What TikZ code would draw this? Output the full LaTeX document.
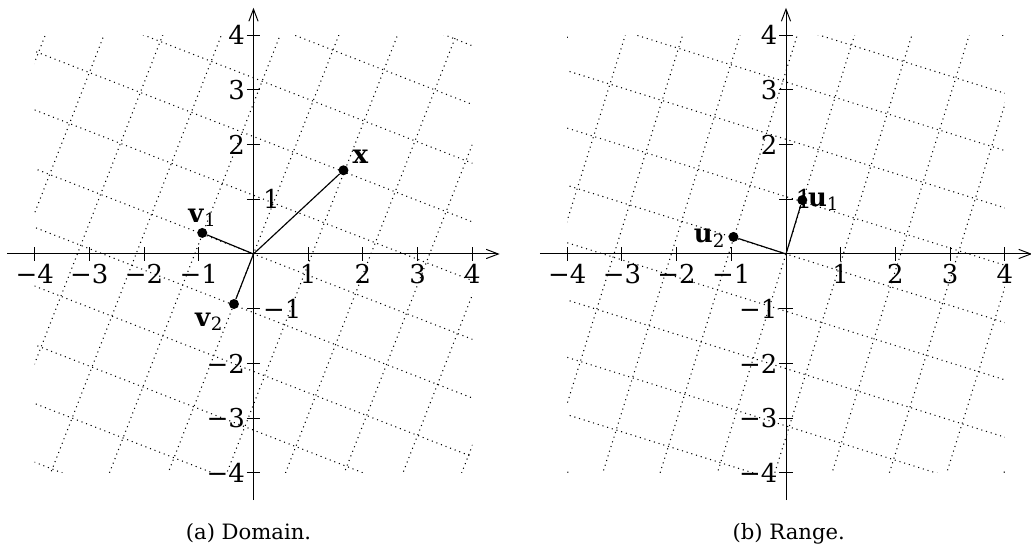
\documentclass[tikz,border=0pt]{standalone}
\usepackage{fontspec}
\setmainfont{DejaVu Serif}
\usetikzlibrary{arrows.meta}
\newcommand{\tlfont}{\fontsize{13.5}{15}\selectfont}
\newcommand{\capfont}{\fontsize{11}{13}\selectfont}
\newcommand{\numlab}[1]{\ifnum#1<0 −\the\numexpr-#1\relax\else#1\fi}
\newcommand{\bvsub}[2]{\textbf{#1}\raisebox{-2.1pt}{\fontsize{9.5}{11}\selectfont #2}}
\begin{document}
\begin{tikzpicture}[
  gridline/.style={dotted, line width=0.55pt, black},
  axisline/.style={line width=0.5pt},
  axisarrow/.style={axisline, -{Straight Barb[length=6.3pt,width=4.8pt]}},
  tickmark/.style={line width=0.5pt},
  ticklab/.style={font=\tlfont, inner sep=0pt},
  vecline/.style={line width=0.6pt},
  dotnode/.style={circle, fill, inner sep=0pt, minimum size=5.2pt},
  veclab/.style={font=\tlfont, inner sep=0pt},
  captext/.style={font=\capfont, inner sep=0pt, anchor=base}
]
\useasboundingbox (-4.634,-5.503) rectangle (14.214,4.643);

% ===================== Domain =====================
\begin{scope}
  \begin{scope}
    \clip (-4,-4) rectangle (4,4);
    \begin{scope}[rotate=-21.3]
      \foreach \i in {-8,...,8} {
        \draw[gridline] (\i,-8) -- (\i,8);
        \draw[gridline] (-8,\i) -- (8,\i);
      }
    \end{scope}
  \end{scope}
  \coordinate (O1) at (0,0);
  \coordinate (xl1) at (-4.5,0);
  \coordinate (xr1) at (4.5,0);
  \coordinate (yb1) at (0,-4.5);
  \coordinate (yt1) at (0,4.5);
  \draw[axisarrow] (xl1) -- (xr1);
  \draw[axisarrow] (yb1) -- (yt1);
  \foreach \k in {-4,-3,-2,-1,1,2,3,4} {
    \draw[tickmark] (\k,-0.12) -- (\k,0.12);
    \draw[tickmark] (-0.12,\k) -- (0.12,\k);
    \node[ticklab] (dx\k) at (\k,-0.37) {\numlab{\k}};
  }
  \foreach \k in {-4,-3,-2,2,3,4} {
    \node[ticklab, anchor=east] (dy\k) at (-0.15,\k) {\numlab{\k}};
  }
  \foreach \k in {-1,1} {
    \node[ticklab, anchor=west] (dy\k) at (0.17,\k) {\numlab{\k}};
  }
  \node[dotnode] (v1) at (-0.936,0.385) {};
  \node[dotnode] (v2) at (-0.357,-0.915) {};
  \node[dotnode] (x) at (1.645,1.530) {};
  \draw[vecline] (O1) -- (v1);
  \draw[vecline] (O1) -- (v2);
  \draw[vecline] (O1) -- (x);
  \node[veclab] (v1lab) at (-0.940,0.662) {\bvsub{v}{1}};
  \node[veclab] (v2lab) at (-0.817,-1.238) {\bvsub{v}{2}};
  \node[veclab] (xlab) at (1.956,1.779) {\textbf{x}};
  \node[captext] (capa) at (-0.09,-5.216) {(a) Domain.};
\end{scope}

% ===================== Range =====================
\begin{scope}[xshift=9.735cm]
  \begin{scope}
    \clip (-4,-4) rectangle (4,4);
    \begin{scope}[rotate=-17.4]
      \foreach \i in {-8,...,8} {
        \draw[gridline] (\i,-8) -- (\i,8);
        \draw[gridline] (-8,\i) -- (8,\i);
      }
    \end{scope}
  \end{scope}
  \coordinate (O2) at (0,0);
  \coordinate (xl2) at (-4.5,0);
  \coordinate (xr2) at (4.5,0);
  \coordinate (yb2) at (0,-4.5);
  \coordinate (yt2) at (0,4.5);
  \draw[axisarrow] (xl2) -- (xr2);
  \draw[axisarrow] (yb2) -- (yt2);
  \foreach \k in {-4,-3,-2,-1,1,2,3,4} {
    \draw[tickmark] (\k,-0.12) -- (\k,0.12);
    \draw[tickmark] (-0.12,\k) -- (0.12,\k);
    \node[ticklab] (rx\k) at (\k,-0.37) {\numlab{\k}};
  }
  \foreach \k in {-4,-3,-2,-1,2,3,4} {
    \node[ticklab, anchor=east] (ry\k) at (-0.15,\k) {\numlab{\k}};
  }
  \node[ticklab, anchor=west] (ry1) at (0.17,1) {1};
  \node[dotnode] (u1) at (0.298,0.985) {};
  \node[dotnode] (u2) at (-0.960,0.312) {};
  \draw[vecline] (O2) -- (u1);
  \draw[vecline] (O2) -- (u2);
  \node[veclab] (u1lab) at (0.682,0.956) {\bvsub{u}{1}};
  \node[veclab] (u2lab) at (-1.404,0.287) {\bvsub{u}{2}};
  \node[captext] (capb) at (0.05,-5.216) {(b) Range.};
\end{scope}
\end{tikzpicture}
\end{document}
